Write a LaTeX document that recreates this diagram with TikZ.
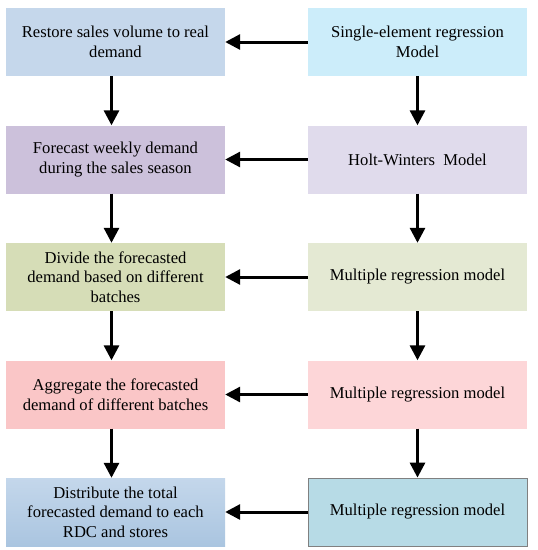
\documentclass[tikz,border=0pt]{standalone}
\usepackage{fontspec}
\setmainfont{Liberation Serif}
\usetikzlibrary{positioning,arrows.meta}

\definecolor{restoreblue}{RGB}{197,215,235}
\definecolor{weeklypurple}{RGB}{204,193,219}
\definecolor{dividegreen}{RGB}{214,221,183}
\definecolor{aggregatered}{RGB}{250,198,199}
\definecolor{distributetop}{RGB}{196,215,235}
\definecolor{distributebottom}{RGB}{170,197,224}
\definecolor{singlecyan}{RGB}{204,237,250}
\definecolor{holtpurple}{RGB}{224,219,236}
\definecolor{multigreen}{RGB}{228,233,211}
\definecolor{multired}{RGB}{253,214,216}
\definecolor{multiblue}{RGB}{183,219,230}

\tikzstyle{stage} = [align=center,rectangle,text centered,minimum width=219pt,minimum height=68pt,inner sep=0pt,font=\fontsize{16.6}{19.6}\selectfont]
\tikzstyle{flow} = [-{Triangle[length=15pt,width=15pt]},line width=3pt]

\begin{document}
\begin{tikzpicture}[node distance=117.5pt]
	\useasboundingbox (0,0) rectangle (538pt,-550pt);
	% forecasting steps
	\node (restore) [stage,fill=restoreblue] at (115.5pt,-42pt) {Restore sales volume to real\\demand};
	\node (weekly) [stage,below of=restore,fill=weeklypurple] {Forecast weekly demand\\during the sales season};
	\node (divide) [stage,below of=weekly,fill=dividegreen] {Divide the forecasted\\demand based on different\\batches};
	\node (aggregate) [stage,below of=divide,fill=aggregatered] {Aggregate the forecasted\\demand of different batches};
	\node (distribute) [stage,below of=aggregate,top color=distributetop,bottom color=distributebottom] {Distribute the total\\forecasted demand to each\\RDC and stores};
	% models
	\node (single) [stage,node distance=302pt,right of=restore,fill=singlecyan] {Single-element regression\\Model};
	\node (holt) [stage,below of=single,fill=holtpurple] {Holt-Winters\ \ Model};
	\node (multi1) [stage,below of=holt,fill=multigreen] {Multiple regression model};
	\node (multi2) [stage,below of=multi1,fill=multired] {Multiple regression model};
	\node (multi3) [stage,below of=multi2,fill=multiblue,draw=gray,line width=0.8pt] {Multiple regression model};
	% connections
	\draw [flow] ([xshift=-4pt]restore.south) -- ([xshift=-4pt]weekly.north);
	\draw [flow] ([xshift=-4pt]weekly.south) -- ([xshift=-4pt]divide.north);
	\draw [flow] ([xshift=-4pt]divide.south) -- ([xshift=-4pt]aggregate.north);
	\draw [flow] ([xshift=-4pt]aggregate.south) -- ([xshift=-4pt]distribute.north);
	\draw [flow] (single) -- (holt);
	\draw [flow] (holt) -- (multi1);
	\draw [flow] (multi1) -- (multi2);
	\draw [flow] (multi2) -- (multi3);
	\draw [flow] (single) -- (restore);
	\draw [flow] (holt) -- (weekly);
	\draw [flow] (multi1) -- (divide);
	\draw [flow] (multi2) -- (aggregate);
	\draw [flow] (multi3) -- (distribute);
\end{tikzpicture}
\end{document}
